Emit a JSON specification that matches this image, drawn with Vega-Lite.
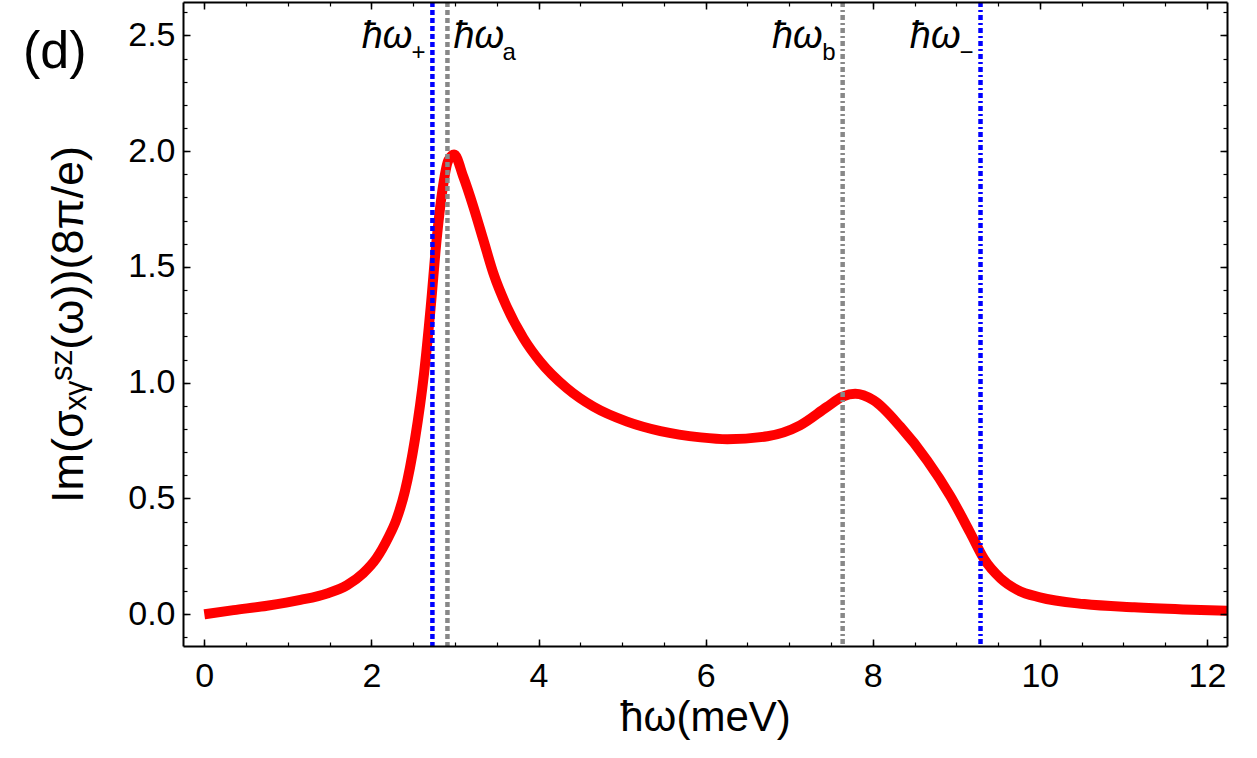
{
  "$schema": "https://vega.github.io/schema/vega-lite/v6.json",
  "autosize": {"type": "none"},
  "padding": {"left": 183, "top": 2, "right": 30, "bottom": 112},
  "width": 1044,
  "height": 644,
  "background": "white",
  "config": {
    "view": {"stroke": null},
    "font": "Liberation Sans",
    "axis": {"grid": false, "labelFont": "Liberation Sans", "titleFont": "Liberation Sans", "labelColor": "black", "titleColor": "black", "titleFontWeight": "normal"}
  },
  "datasets": {
    "curve": [
      {"w": 0, "im": 0},
      {"w": 0.35, "im": 0.018},
      {"w": 0.75, "im": 0.037},
      {"w": 1.15, "im": 0.062},
      {"w": 1.47, "im": 0.09},
      {"w": 1.71, "im": 0.126},
      {"w": 1.9, "im": 0.177},
      {"w": 2.06, "im": 0.242},
      {"w": 2.2, "im": 0.33},
      {"w": 2.3, "im": 0.41},
      {"w": 2.4, "im": 0.53},
      {"w": 2.52, "im": 0.753},
      {"w": 2.63, "im": 1.04},
      {"w": 2.71, "im": 1.328},
      {"w": 2.78, "im": 1.616},
      {"w": 2.85, "im": 1.832},
      {"w": 2.92, "im": 1.96},
      {"w": 2.99, "im": 1.985},
      {"w": 3.1, "im": 1.889},
      {"w": 3.22, "im": 1.76},
      {"w": 3.34, "im": 1.616},
      {"w": 3.46, "im": 1.472},
      {"w": 3.62, "im": 1.328},
      {"w": 3.82, "im": 1.192},
      {"w": 4.02, "im": 1.091},
      {"w": 4.34, "im": 0.976},
      {"w": 4.66, "im": 0.896},
      {"w": 5.06, "im": 0.832},
      {"w": 5.46, "im": 0.791},
      {"w": 5.94, "im": 0.764},
      {"w": 6.26, "im": 0.756},
      {"w": 6.74, "im": 0.769},
      {"w": 7.13, "im": 0.816},
      {"w": 7.45, "im": 0.895},
      {"w": 7.64, "im": 0.94},
      {"w": 7.79, "im": 0.952},
      {"w": 8.01, "im": 0.924},
      {"w": 8.33, "im": 0.81},
      {"w": 8.65, "im": 0.665},
      {"w": 8.93, "im": 0.51},
      {"w": 9.17, "im": 0.35},
      {"w": 9.33, "im": 0.24},
      {"w": 9.53, "im": 0.155},
      {"w": 9.73, "im": 0.105},
      {"w": 10.0, "im": 0.073},
      {"w": 10.53, "im": 0.044},
      {"w": 11.13, "im": 0.03},
      {"w": 11.72, "im": 0.021},
      {"w": 12.24, "im": 0.015}
    ],
    "marks": [
      {"name": "plus", "w": 2.73, "main": "ħω", "sub": "+"},
      {"name": "a", "w": 2.91, "main": "ħω", "sub": "a"},
      {"name": "b", "w": 7.64, "main": "ħω", "sub": "b"},
      {"name": "minus", "w": 9.29, "main": "ħω", "sub": "−"}
    ],
    "panel": [{"tag": "(d)"}]
  },
  "resolve": {"axis": {"x": "independent", "y": "independent"}},
  "layer": [
    {
      "mark": {"type": "rule", "color": "#cccccc", "strokeWidth": 1},
      "encoding": {"x": {"datum": 0, "type": "quantitative", "axis": null}}
    },
    {
      "mark": {"type": "rule", "color": "#cccccc", "strokeWidth": 1},
      "encoding": {"y": {"datum": 0, "type": "quantitative", "axis": null}}
    },
    {
      "data": {"name": "curve"},
      "mark": {"type": "line", "color": "#ff0000", "strokeWidth": 10, "interpolate": "monotone", "clip": true},
      "encoding": {
        "x": {
          "field": "w", "type": "quantitative",
          "scale": {"domain": [-0.255, 12.24], "nice": false, "zero": false},
          "axis": {"orient": "bottom", "domain": false, "ticks": false, "values": [0, 2, 4, 6, 8, 10, 12], "format": "d", "labelFontSize": 34, "labelPadding": 13, "title": "ħω(meV)", "titleFontSize": 42, "titlePadding": 4}
        },
        "y": {
          "field": "im", "type": "quantitative",
          "scale": {"domain": [-0.137, 2.644], "nice": false, "zero": false},
          "axis": {"orient": "left", "domain": false, "ticks": false, "values": [0, 0.5, 1, 1.5, 2, 2.5], "format": ".1f", "labelFontSize": 34, "labelPadding": 8, "title": "Im(σₓᵧˢᶻ(ω))(8π/e)", "titleFontSize": 45, "titlePadding": 36}
        }
      }
    },
    {
      "data": {"name": "marks"},
      "mark": {"type": "rule", "strokeWidth": 4.5},
      "encoding": {
        "x": {"field": "w", "type": "quantitative", "axis": null},
        "color": {"field": "name", "type": "nominal", "legend": null, "scale": {"domain": ["plus", "a", "b", "minus"], "range": ["#0000ff", "#888888", "#888888", "#0000ff"]}},
        "strokeDash": {"field": "name", "type": "nominal", "legend": null, "scale": {"domain": ["plus", "a", "b", "minus"], "range": [[5, 3], [5, 3], [5, 3, 2, 3], [5, 3, 2, 3]]}}
      }
    },
    {
      "data": {"name": "marks"},
      "transform": [{"filter": "datum.name != 'a'"}],
      "mark": {"type": "text", "align": "right", "baseline": "alphabetic", "fontSize": 38, "fontStyle": "italic", "dx": -20, "color": "black"},
      "encoding": {
        "x": {"field": "w", "type": "quantitative", "axis": null},
        "y": {"datum": 2.445, "type": "quantitative", "axis": null},
        "text": {"field": "main"}
      }
    },
    {
      "data": {"name": "marks"},
      "transform": [{"filter": "datum.name != 'a'"}],
      "mark": {"type": "text", "align": "right", "baseline": "alphabetic", "fontSize": 24, "dx": -7, "color": "black"},
      "encoding": {
        "x": {"field": "w", "type": "quantitative", "axis": null},
        "y": {"datum": 2.395, "type": "quantitative", "axis": null},
        "text": {"field": "sub"}
      }
    },
    {
      "data": {"name": "marks"},
      "transform": [{"filter": "datum.name == 'a'"}],
      "mark": {"type": "text", "align": "left", "baseline": "alphabetic", "fontSize": 38, "fontStyle": "italic", "dx": 6, "color": "black"},
      "encoding": {
        "x": {"field": "w", "type": "quantitative", "axis": null},
        "y": {"datum": 2.445, "type": "quantitative", "axis": null},
        "text": {"field": "main"}
      }
    },
    {
      "data": {"name": "marks"},
      "transform": [{"filter": "datum.name == 'a'"}],
      "mark": {"type": "text", "align": "left", "baseline": "alphabetic", "fontSize": 24, "dx": 55, "color": "black"},
      "encoding": {
        "x": {"field": "w", "type": "quantitative", "axis": null},
        "y": {"datum": 2.395, "type": "quantitative", "axis": null},
        "text": {"field": "sub"}
      }
    },
    {
      "data": {"name": "panel"},
      "mark": {"type": "text", "align": "center", "baseline": "middle", "fontSize": 52, "color": "black"},
      "encoding": {
        "x": {"datum": -1.79, "type": "quantitative", "axis": null},
        "y": {"datum": 2.43, "type": "quantitative", "axis": null},
        "text": {"field": "tag"}
      }
    },
    {
      "data": {"name": "curve"},
      "mark": {"type": "point", "opacity": 0, "size": 0},
      "encoding": {
        "x": {"field": "w", "type": "quantitative", "axis": {"orient": "bottom", "domain": true, "domainColor": "black", "domainWidth": 2, "ticks": true, "tickColor": "black", "tickWidth": 1.5, "tickSize": -7, "labels": false, "title": null, "values": [0, 2, 4, 6, 8, 10, 12], "zindex": 1}},
        "y": {"field": "im", "type": "quantitative", "axis": {"orient": "left", "domain": true, "domainColor": "black", "domainWidth": 2, "ticks": true, "tickColor": "black", "tickWidth": 1.5, "tickSize": -7, "labels": false, "title": null, "values": [0, 0.5, 1, 1.5, 2, 2.5], "zindex": 1}}
      }
    },
    {
      "data": {"name": "curve"},
      "mark": {"type": "point", "opacity": 0, "size": 0},
      "encoding": {
        "x": {"field": "w", "type": "quantitative", "axis": {"orient": "bottom", "domain": false, "ticks": true, "tickColor": "black", "tickWidth": 1.2, "tickSize": -4, "labels": false, "title": null, "values": [0, 0.5, 1, 1.5, 2, 2.5, 3, 3.5, 4, 4.5, 5, 5.5, 6, 6.5, 7, 7.5, 8, 8.5, 9, 9.5, 10, 10.5, 11, 11.5, 12], "zindex": 1}},
        "y": {"field": "im", "type": "quantitative", "axis": {"orient": "left", "domain": false, "ticks": true, "tickColor": "black", "tickWidth": 1.2, "tickSize": -4, "labels": false, "title": null, "values": [-0.1, 0, 0.1, 0.2, 0.3, 0.4, 0.5, 0.6, 0.7, 0.8, 0.9, 1, 1.1, 1.2, 1.3, 1.4, 1.5, 1.6, 1.7, 1.8, 1.9, 2, 2.1, 2.2, 2.3, 2.4, 2.5, 2.6], "zindex": 1}}
      }
    },
    {
      "data": {"name": "curve"},
      "mark": {"type": "point", "opacity": 0, "size": 0},
      "encoding": {
        "x": {"field": "w", "type": "quantitative", "axis": {"orient": "top", "domain": true, "domainColor": "black", "domainWidth": 2, "ticks": true, "tickColor": "black", "tickWidth": 1.5, "tickSize": -7, "labels": false, "title": null, "values": [0, 2, 4, 6, 8, 10, 12], "zindex": 1}},
        "y": {"field": "im", "type": "quantitative", "axis": {"orient": "right", "domain": true, "domainColor": "black", "domainWidth": 2, "ticks": true, "tickColor": "black", "tickWidth": 1.5, "tickSize": -7, "labels": false, "title": null, "values": [0, 0.5, 1, 1.5, 2, 2.5], "zindex": 1}}
      }
    },
    {
      "data": {"name": "curve"},
      "mark": {"type": "point", "opacity": 0, "size": 0},
      "encoding": {
        "x": {"field": "w", "type": "quantitative", "axis": {"orient": "top", "domain": false, "ticks": true, "tickColor": "black", "tickWidth": 1.2, "tickSize": -4, "labels": false, "title": null, "values": [0, 0.5, 1, 1.5, 2, 2.5, 3, 3.5, 4, 4.5, 5, 5.5, 6, 6.5, 7, 7.5, 8, 8.5, 9, 9.5, 10, 10.5, 11, 11.5, 12], "zindex": 1}},
        "y": {"field": "im", "type": "quantitative", "axis": {"orient": "right", "domain": false, "ticks": true, "tickColor": "black", "tickWidth": 1.2, "tickSize": -4, "labels": false, "title": null, "values": [-0.1, 0, 0.1, 0.2, 0.3, 0.4, 0.5, 0.6, 0.7, 0.8, 0.9, 1, 1.1, 1.2, 1.3, 1.4, 1.5, 1.6, 1.7, 1.8, 1.9, 2, 2.1, 2.2, 2.3, 2.4, 2.5, 2.6], "zindex": 1}}
      }
    }
  ]
}
